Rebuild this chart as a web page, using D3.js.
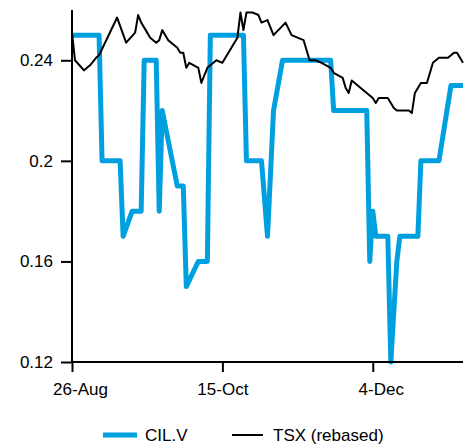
<!DOCTYPE html>
<html>
<head>
<meta charset="utf-8">
<script src="https://cdn.jsdelivr.net/npm/d3@7"></script>
<style>
  html, body { margin: 0; padding: 0; background: #fff; }
  svg text { font-family: "Liberation Sans", Arial, sans-serif; fill: #000; }
</style>
</head>
<body>
<svg id="chart" width="471" height="448"></svg>
<script>
// ---- data ----
const cilDates = ["2019-08-26","2019-09-04","2019-09-05","2019-09-11","2019-09-12","2019-09-15","2019-09-18","2019-09-19","2019-09-23","2019-09-24","2019-09-25","2019-09-30","2019-10-02","2019-10-03","2019-10-07","2019-10-10","2019-10-11","2019-10-22","2019-10-23","2019-10-28","2019-10-30","2019-11-01","2019-11-04","2019-11-20","2019-11-21","2019-12-02","2019-12-03","2019-12-04","2019-12-05","2019-12-09","2019-12-10","2019-12-12","2019-12-13","2019-12-19","2019-12-20","2019-12-26","2019-12-30","2020-01-03"];
const cilValues = [0.25,0.25,0.20,0.20,0.17,0.18,0.18,0.24,0.24,0.18,0.22,0.19,0.19,0.15,0.16,0.16,0.25,0.25,0.20,0.20,0.17,0.22,0.24,0.24,0.22,0.22,0.16,0.18,0.17,0.17,0.12,0.16,0.17,0.17,0.20,0.20,0.23,0.23];

const tsxDates = ["2019-08-26","2019-08-27","2019-08-30","2019-09-01","2019-09-03","2019-09-04","2019-09-10","2019-09-13","2019-09-16","2019-09-17","2019-09-18","2019-09-20","2019-09-21","2019-09-23","2019-09-24","2019-09-25","2019-09-27","2019-09-30","2019-10-01","2019-10-02","2019-10-03","2019-10-04","2019-10-07","2019-10-08","2019-10-10","2019-10-13","2019-10-15","2019-10-18","2019-10-20","2019-10-21","2019-10-22","2019-10-23","2019-10-25","2019-10-27","2019-10-28","2019-10-30","2019-11-01","2019-11-05","2019-11-07","2019-11-11","2019-11-13","2019-11-15","2019-11-17","2019-11-20","2019-11-21","2019-11-24","2019-11-25","2019-11-26","2019-11-27","2019-11-29","2019-12-02","2019-12-04","2019-12-05","2019-12-06","2019-12-09","2019-12-11","2019-12-12","2019-12-16","2019-12-17","2019-12-18","2019-12-20","2019-12-22","2019-12-24","2019-12-26","2019-12-29","2019-12-31","2020-01-01","2020-01-03"];
const tsxValues = [0.251,0.240,0.236,0.238,0.241,0.242,0.257,0.247,0.251,0.258,0.255,0.251,0.249,0.247,0.248,0.252,0.248,0.245,0.243,0.243,0.237,0.239,0.237,0.231,0.237,0.240,0.239,0.245,0.249,0.259,0.252,0.259,0.259,0.258,0.255,0.256,0.250,0.255,0.250,0.248,0.240,0.240,0.239,0.237,0.235,0.233,0.229,0.227,0.232,0.230,0.227,0.225,0.223,0.225,0.225,0.221,0.220,0.220,0.219,0.227,0.231,0.231,0.239,0.241,0.241,0.243,0.243,0.239];

const xDomain = ["2019-08-26","2020-01-03"];
const yDomain = [0.12, 0.26];
const xTickDates = ["2019-08-26","2019-10-15","2019-12-04"];
const yTickValues = [0.12, 0.16, 0.2, 0.24];
const seriesNames = ["CIL.V", "TSX (rebased)"];

(function () {
  // ---- layout ----
  const parse = d3.timeParse("%Y-%m-%d");
  const svg = d3.select("#chart");
  const mLeft = 72, mRight = 463, mTop = 10, mBottom = 362;
  const blue = "#00a0e0";

  const x = d3.scaleTime().domain(xDomain.map(parse)).range([mLeft, mRight]);
  const y = d3.scaleLinear().domain(yDomain).range([mBottom, mTop]);

  const cil = cilDates.map((d, i) => ({ date: parse(d), value: cilValues[i] }));
  const tsx = tsxDates.map((d, i) => ({ date: parse(d), value: tsxValues[i] }));

  const line = d3.line().x(d => x(d.date)).y(d => y(d.value));

  svg.append("path").datum(cil)
    .attr("d", line).attr("fill", "none")
    .attr("stroke", blue).attr("stroke-width", 5)
    .attr("stroke-linejoin", "round");

  svg.append("path").datum(tsx)
    .attr("d", line).attr("fill", "none")
    .attr("stroke", "#000").attr("stroke-width", 2)
    .attr("stroke-linejoin", "round");

  // y axis
  const yAxis = svg.append("g").attr("transform", `translate(${mLeft},0)`)
    .call(d3.axisLeft(y).tickValues(yTickValues).tickSize(11).tickPadding(8)
      .tickFormat(d => String(d)));
  yAxis.select(".domain").attr("d", `M0,${mTop}V${mBottom}`).attr("stroke-width", 2);
  yAxis.selectAll(".tick line").attr("stroke-width", 2);
  yAxis.selectAll("text").attr("font-size", 17).attr("font-family", null);

  // x axis
  const labelDx = [8, 0, 8];
  const xAxis = svg.append("g").attr("transform", `translate(0,${mBottom})`)
    .call(d3.axisBottom(x).tickValues(xTickDates.map(parse)).tickSize(10).tickPadding(11)
      .tickFormat(d3.timeFormat("%-d-%b")));
  xAxis.select(".domain").attr("d", `M${mLeft},0H${mRight}`).attr("stroke-width", 2);
  xAxis.selectAll(".tick line").attr("stroke-width", 2);
  xAxis.selectAll("text").attr("font-size", 17).attr("font-family", null)
    .attr("dx", (d, i) => labelDx[i]);
  svg.selectAll(".domain, .tick line").attr("stroke", "#000");
  svg.selectAll("g").attr("font-family", null).attr("font-size", null);

  // legend
  const lg = svg.append("g");
  lg.append("line").attr("x1", 103).attr("x2", 137).attr("y1", 435).attr("y2", 435)
    .attr("stroke", blue).attr("stroke-width", 5);
  lg.append("text").attr("x", 145).attr("y", 441).attr("font-size", 17).text(seriesNames[0]);
  lg.append("line").attr("x1", 232).attr("x2", 263).attr("y1", 435).attr("y2", 435)
    .attr("stroke", "#000").attr("stroke-width", 2);
  lg.append("text").attr("x", 273).attr("y", 441).attr("font-size", 17).text(seriesNames[1]);
})();
</script>
</body>
</html>
